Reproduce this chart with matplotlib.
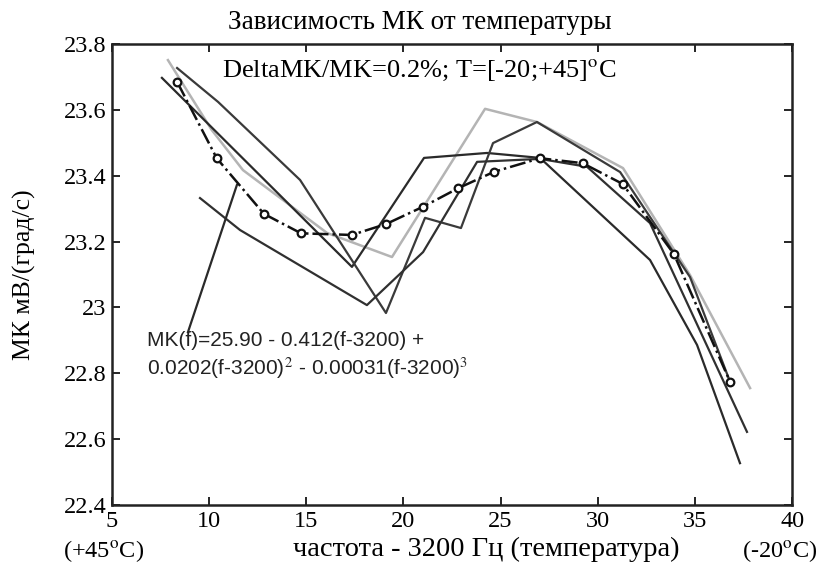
import matplotlib
matplotlib.use("Agg")
import matplotlib.pyplot as plt

plt.rcParams["font.family"] = ["Liberation Serif", "DejaVu Serif"]
plt.rcParams["mathtext.fontset"] = "stix"

# series (x = f - 3200 Hz, y = MK)
a_x = [7.57, 17.35, 21.06, 24.30, 27.03, 32.69, 35.11, 37.32]
a_y = [23.697, 23.123, 23.454, 23.469, 23.454, 23.144, 22.886, 22.527]

b_x = [8.35, 10.46, 14.68, 19.10, 21.11, 22.96, 24.61, 26.87, 31.15, 34.75, 36.81]
b_y = [23.727, 23.624, 23.387, 22.983, 23.272, 23.241, 23.499, 23.563, 23.411, 23.092, 22.774]

d_x = [9.53, 11.59, 18.12, 21.01, 23.79, 27.03, 29.45, 32.69, 37.68]
d_y = [23.332, 23.235, 23.007, 23.168, 23.442, 23.451, 23.427, 23.256, 22.622]

e_x = [8.91, 11.43]
e_y = [22.925, 23.372]

g_x = [7.88, 10.13, 11.74, 16.07, 19.41, 24.20, 26.87, 31.30, 34.75, 37.84]
g_y = [23.751, 23.539, 23.417, 23.226, 23.153, 23.603, 23.563, 23.423, 23.098, 22.755]

fit_x = [8.36, 10.39, 12.82, 14.73, 17.34, 19.10, 21.02, 22.82, 24.67, 27.03,
         29.22, 31.28, 33.92, 36.81]
fit_y = [23.684, 23.453, 23.284, 23.225, 23.220, 23.253, 23.306, 23.362, 23.412,
         23.453, 23.438, 23.375, 23.162, 22.774]

xticks = [5, 10, 15, 20, 25, 30, 35, 40]
yticks = [22.4, 22.6, 22.8, 23.0, 23.2, 23.4, 23.6, 23.8]
ytick_labels = ["22.4", "22.6", "22.8", "23", "23.2", "23.4", "23.6", "23.8"]

fig = plt.figure(figsize=(8.32, 5.65), dpi=100)
ax = fig.add_axes([0.1346, 0.1062, 0.8174, 0.8160])

ax.plot(g_x, g_y, color="#b4b4b4", lw=1.8)
ax.plot(a_x, a_y, color="#2a2a2a", lw=1.6)
ax.plot(b_x, b_y, color="#3a3a3a", lw=1.6)
ax.plot(d_x, d_y, color="#303030", lw=1.6)
ax.plot(e_x, e_y, color="#2a2a2a", lw=1.6)
ax.plot(fit_x, fit_y, color="#111111", lw=1.8, ls="-.", marker="o",
        markersize=5.5, markerfacecolor="white", markeredgecolor="#111111",
        markeredgewidth=1.6)

ax.set_xlim(5, 40)
ax.set_ylim(22.4, 23.8)
ax.set_xticks(xticks)
ax.set_yticks(yticks)
ax.set_yticklabels(ytick_labels)
ax.tick_params(direction="in", length=6, width=1.2, labelsize=17.5,
               top=True, right=True, pad=4)
for s in ax.spines.values():
    s.set_linewidth(1.8)
    s.set_color("#222222")

ax.set_ylabel("МК мВ/(град/с)", fontsize=18.5)
ax.yaxis.set_label_coords(-0.112, 0.5)
fig.text(0.505, 0.961, "Зависимость МК от температуры", ha="center",
         va="center", fontsize=19.5)
fig.text(0.585, 0.028, "частота - 3200 Гц (температура)", ha="center",
         va="center", fontsize=20.5)
fig.text(0.124, 0.024, "(+45$^{\\mathrm{o}}$C)", ha="center", va="center",
         fontsize=17.5)
fig.text(0.9375, 0.024, "(-20$^{\\mathrm{o}}$C)", ha="center", va="center",
         fontsize=17.5)

ax.text(0.162, 0.942, "DeltaMK/MK=0.2%; T=[-20;+45]$^{\\mathrm{o}}$C",
        transform=ax.transAxes, fontsize=19, va="center")
ax.text(0.051, 0.323,
        "MK(f)=25.90 - 0.412(f-3200) +\n"
        "0.0202(f-3200)$^{2}$ - 0.00031(f-3200)$^{3}$",
        transform=ax.transAxes, fontsize=15, va="center",
        family=["Liberation Sans", "DejaVu Sans"], linespacing=1.3,
        color="#222222")

fig.savefig("out.png", dpi=100)
